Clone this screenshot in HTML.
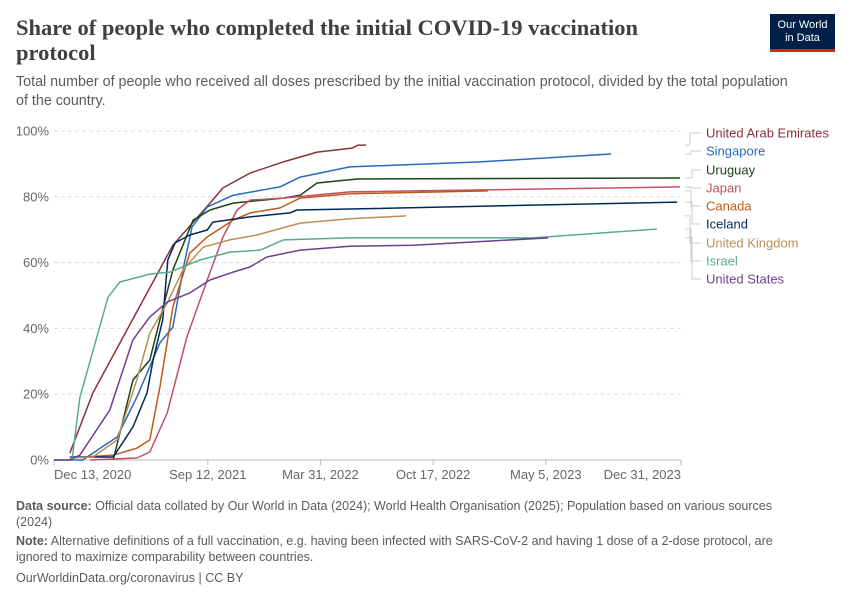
<!DOCTYPE html>
<html><head><meta charset="utf-8"><style>
body{margin:0;background:#fff;font-family:"Liberation Sans",sans-serif;}
#wrap{position:relative;width:850px;height:600px;overflow:hidden;}
.t{position:absolute;white-space:nowrap;}
</style></head><body>
<div id="wrap">
<div class="t" style="left:16px;top:15px;font-family:'Liberation Serif',serif;font-weight:bold;font-size:22.5px;color:#404040;line-height:25px;white-space:normal;width:700px;">Share of people who completed the initial COVID-19 vaccination protocol</div>
<div class="t" style="left:16px;top:73px;font-size:14.3px;color:#5b5b5b;line-height:19px;">Total number of people who received all doses prescribed by the initial vaccination protocol, divided by the total population<br>of the country.</div>
<div style="position:absolute;left:770px;top:14px;width:65px;height:38px;background:#002147;border-bottom:3px solid #ce261e;box-sizing:border-box;color:#fff;font-size:11px;line-height:13px;text-align:center;padding-top:5px;">Our World<br>in Data</div>
<svg id="chart" width="850" height="600" style="position:absolute;left:0;top:0;"></svg>
<div class="t" style="left:16px;top:498px;font-size:12.5px;color:#5b5b5b;line-height:16px;"><b>Data source:</b> Official data collated by Our World in Data (2024); World Health Organisation (2025); Population based on various sources<br>(2024)</div>
<div class="t" style="left:16px;top:533px;font-size:12.5px;color:#5b5b5b;line-height:16px;"><b>Note:</b> Alternative definitions of a full vaccination, e.g. having been infected with SARS-CoV-2 and having 1 dose of a 2-dose protocol, are<br>ignored to maximize comparability between countries.</div>
<div class="t" style="left:16px;top:571px;font-size:12.5px;color:#5b5b5b;">OurWorldinData.org/coronavirus | CC BY</div>
</div>
<script>
const yTicks=[0,20,40,60,80,100];
const xTickDays=[0,273,473,673,873,1113];
const xTickLabels=["Dec 13, 2020","Sep 12, 2021","Mar 31, 2022","Oct 17, 2022","May 5, 2023","Dec 31, 2023"];
const seriesNames=["United Arab Emirates","Singapore","Uruguay","Japan","Canada","Iceland","United Kingdom","Israel","United States"];
const seriesColors=["#883039","#286BBB","#18470F","#C15065","#C05917","#00295B","#BC8E5A","#58AC8C","#6D3E91"];
const uae=[[28,2.1],[69,20.4],[211,65.3],[277,78.1],[300,82.7],[348,87.2],[407,90.6],[467,93.6],[529,94.8],[540,95.7],[554,95.7]];
const singapore=[[0,0],[51,0],[82,3.6],[112,7],[147,19.1],[188,35.6],[211,40.4],[229,57.8],[245,70.8],[272,76.9],[318,80.5],[401,83],[437,86],[525,89.1],[756,90.6],[989,93]];
const uruguay=[[105,0],[140,24.3],[170,30.4],[188,42.6],[211,57.8],[247,72.9],[277,76],[318,78.1],[407,79.6],[437,80.5],[467,84.2],[538,85.4],[1111,85.7]];
const japan=[[64,0],[147,0.6],[170,2.4],[201,14.3],[236,37.4],[272,54.7],[300,67.8],[325,76],[348,79],[407,79.6],[525,81.5],[1111,83]];
const canada=[[28,0.6],[105,1.5],[147,3.6],[170,6.1],[188,22.2],[211,46.5],[241,62.9],[272,67.8],[318,72.9],[348,75.1],[401,76.6],[437,79.6],[525,80.9],[770,81.8]];
const iceland=[[28,0.9],[105,0.9],[140,10],[165,20.4],[176,30.4],[193,42.6],[202,60.8],[215,66],[241,68.4],[272,69.9],[282,72.3],[348,73.9],[419,75.1],[431,76],[525,76.3],[1106,78.4]];
const uk=[[28,0.6],[69,0.9],[112,6.1],[147,24.3],[170,38.6],[201,47.7],[229,57.8],[265,64.7],[312,66.9],[360,68.4],[437,72],[525,73.3],[625,74.2]];
const israel=[[32,0],[46,19.1],[96,49.5],[117,54.1],[170,56.5],[206,57.1],[259,60.8],[312,63.2],[366,63.8],[407,66.9],[525,67.5],[850,67.5],[1070,70.2]];
const us=[[0,0],[28,0],[46,1.5],[99,15.2],[140,36.5],[170,43.5],[201,48],[241,50.8],[277,54.7],[318,57.1],[348,58.7],[378,61.7],[437,63.8],[525,65],[637,65.3],[877,67.5]];
const allSeries=[uae,singapore,uruguay,japan,canada,iceland,uk,israel,us];
const labelY=[133,151,170,188,206,224,243,261,279];

const X0=54,X1=681,Y0=460,Y1=131,DMAX=1113;
const xs=d=>X0+(X1-X0)*d/DMAX;
const ys=v=>Y0-(Y0-Y1)*v/100;
const svg=document.getElementById('chart');
const NS='http://www.w3.org/2000/svg';
function mk(tag,attrs){const e=document.createElementNS(NS,tag);for(const k in attrs)e.setAttribute(k,attrs[k]);svg.appendChild(e);return e;}

yTicks.forEach(v=>{
  if(v>0){const g=mk('line',{x1:X0,x2:X1,y1:ys(v),y2:ys(v),stroke:'#ddd','stroke-dasharray':'4,3'});
  
  }
  const t=mk('text',{x:49,y:ys(v)+4.5,'text-anchor':'end','font-size':'13',fill:'#666','font-family':'Liberation Sans, sans-serif'});
  t.textContent=v+'%';
  
  
});
const ax=mk('line',{x1:X0,x2:X1,y1:Y0,y2:Y0,stroke:'#bbb'});


xTickDays.forEach((d,i)=>{
  const tk=mk('line',{x1:xs(d),x2:xs(d),y1:Y0,y2:Y0+5,stroke:'#bbb'});
  
  
  const anchor=i==0?'start':(i==xTickDays.length-1?'end':'middle');
  const t=mk('text',{x:xs(d),y:Y0+19,'text-anchor':anchor,'font-size':'13',fill:'#666','font-family':'Liberation Sans, sans-serif'});
  t.textContent=xTickLabels[i];
  
  
});
allSeries.forEach((s,i)=>{
  const p=mk('polyline',{points:s.map(q=>xs(q[0]).toFixed(1)+','+ys(q[1]).toFixed(1)).join(' '),fill:'none',stroke:seriesColors[i],'stroke-width':'1.5','stroke-linejoin':'round'});
  
  
  const last=s[s.length-1];
  const ey=ys(last[1]);
  const c=mk('polyline',{points:`685,${ey} ${690+(i%3)},${ey} ${690+(i%3)},${labelY[i]} 701,${labelY[i]}`,fill:'none',stroke:'#ccc','stroke-width':'1'});
  
  
  const t=mk('text',{x:706,y:labelY[i]+4.5,'font-size':'13',fill:seriesColors[i],'font-family':'Liberation Sans, sans-serif'});
  t.textContent=seriesNames[i];
  
  
});
</script>
</body></html>
